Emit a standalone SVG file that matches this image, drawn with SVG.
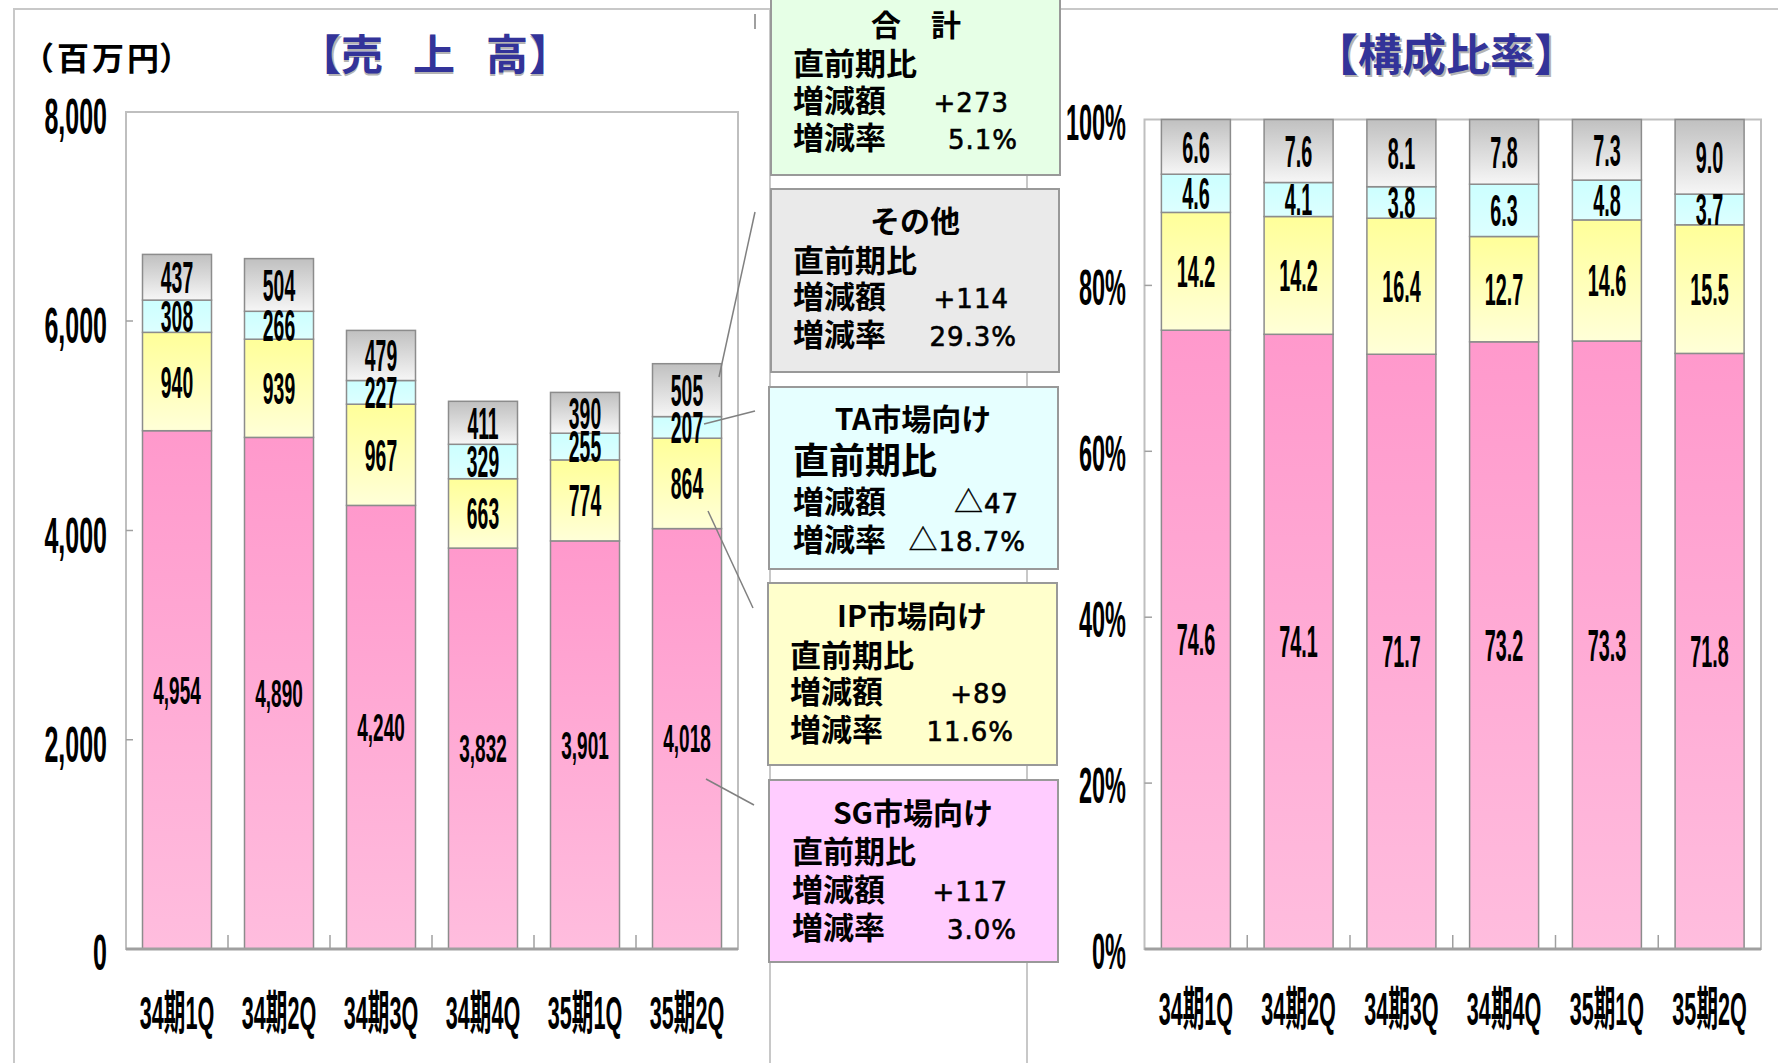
<svg xmlns="http://www.w3.org/2000/svg" width="1778" height="1063" viewBox="0 0 1778 1063">
<defs>
<linearGradient id="gP" x1="0" y1="0" x2="0" y2="1"><stop offset="0" stop-color="#FF99CC"/><stop offset="1" stop-color="#FFBDDE"/></linearGradient>
<linearGradient id="gY" x1="0" y1="0" x2="0" y2="1"><stop offset="0" stop-color="#FFFF99"/><stop offset="1" stop-color="#FFFFD8"/></linearGradient>
<linearGradient id="gC" x1="0" y1="0" x2="0" y2="1"><stop offset="0" stop-color="#CCFFFF"/><stop offset="1" stop-color="#DDFFFF"/></linearGradient>
<linearGradient id="gG" x1="0" y1="0" x2="0" y2="1"><stop offset="0" stop-color="#C0C0C0"/><stop offset="1" stop-color="#F6F6F6"/></linearGradient>
</defs>
<style>
.frame{fill:none;stroke:#C8C8C8;stroke-width:2}
.plot{fill:#FFFFFF;stroke:#BFBFBF;stroke-width:2}
.axis{stroke:#A0A0A0;stroke-width:3}
.tick{stroke:#A0A0A0;stroke-width:1.5}
.seg{stroke:#8C8C8C;stroke-width:1.5}
.p{fill:url(#gP)}.y{fill:url(#gY)}.c{fill:url(#gC)}.g{fill:url(#gG)}
.n{font-family:"Liberation Sans","Noto Sans CJK JP",sans-serif;font-weight:bold;fill:#000;text-anchor:middle}
.e{text-anchor:end}
.s44{font-size:44px}.s38{font-size:38px}.s50{font-size:50px}.s47{font-size:47px}
.title{font-family:"Noto Sans CJK JP",sans-serif;font-weight:bold;fill:#333399}
.box{stroke:#999999;stroke-width:2}
.bt{font-family:"Noto Sans CJK JP",sans-serif;font-weight:bold;font-size:31px;fill:#000}
.big{font-size:36px}
.hd{font-size:30px;text-anchor:middle}
.num{font-family:"DejaVu Sans","Noto Sans CJK JP",sans-serif;font-weight:normal;font-size:26px;letter-spacing:1px;text-anchor:end;fill:#000;stroke:#000;stroke-width:0.6px}
.tri{font-family:"Noto Sans CJK JP",sans-serif;font-size:29px;stroke-width:0.3px}
.conn{stroke:#808080;stroke-width:1.5;fill:none}
</style>
<rect x="0" y="0" width="1778" height="1063" fill="#FFFFFF"/>

<g id="frames">
<path class="frame" d="M14,1063 V9 H770 V1063"/>
<path class="frame" d="M1027,1063 V9 H1778"/>
</g>

<g id="left-chart">
<text class="title" x="299 341 383 413 455 486 529" y="70" font-size="42" dx="2" dy="2" style="fill:#B4B4B4">【売　上　高】</text>
<text class="title" x="299 341 383 413 455 486 529" y="70" font-size="42">【売　上　高】</text>
<text font-family="Noto Sans CJK JP,sans-serif" font-weight="bold" font-size="32" x="22 57 92 127 159" y="70" fill="#000">（百万円）</text>
<rect class="plot" x="126" y="112" width="612" height="837"/>
<g>
<line class="tick" x1="126" y1="321" x2="133" y2="321"/>
<line class="tick" x1="126" y1="530.5" x2="133" y2="530.5"/>
<line class="tick" x1="126" y1="739.75" x2="133" y2="739.75"/>
<line class="tick" x1="228" y1="935" x2="228" y2="949"/>
<line class="tick" x1="330" y1="935" x2="330" y2="949"/>
<line class="tick" x1="432" y1="935" x2="432" y2="949"/>
<line class="tick" x1="534" y1="935" x2="534" y2="949"/>
<line class="tick" x1="636" y1="935" x2="636" y2="949"/>
</g>
<g class="n s50 e">
<text transform="translate(107,134) scale(0.5,1)">8,000</text>
<text transform="translate(107,343) scale(0.5,1)">6,000</text>
<text transform="translate(107,552.5) scale(0.5,1)">4,000</text>
<text transform="translate(107,761.75) scale(0.5,1)">2,000</text>
<text transform="translate(107,970) scale(0.5,1)">0</text>
</g>
<g id="bar-l1">
<rect class="seg p" x="142.5" y="430.7" width="69" height="518.3"/>
<rect class="seg y" x="142.5" y="332.35" width="69" height="98.35"/>
<rect class="seg c" x="142.5" y="300.1" width="69" height="32.25"/>
<rect class="seg g" x="142.5" y="254.4" width="69" height="45.7"/>
</g>
<g id="bar-l2">
<rect class="seg p" x="244.5" y="437.4" width="69" height="511.6"/>
<rect class="seg y" x="244.5" y="339.2" width="69" height="98.2"/>
<rect class="seg c" x="244.5" y="311.3" width="69" height="27.9"/>
<rect class="seg g" x="244.5" y="258.6" width="69" height="52.7"/>
</g>
<g id="bar-l3">
<rect class="seg p" x="346.5" y="505.4" width="69" height="443.6"/>
<rect class="seg y" x="346.5" y="404.2" width="69" height="101.2"/>
<rect class="seg c" x="346.5" y="380.5" width="69" height="23.7"/>
<rect class="seg g" x="346.5" y="330.4" width="69" height="50.1"/>
</g>
<g id="bar-l4">
<rect class="seg p" x="448.5" y="548.1" width="69" height="400.9"/>
<rect class="seg y" x="448.5" y="478.7" width="69" height="69.4"/>
<rect class="seg c" x="448.5" y="444.3" width="69" height="34.4"/>
<rect class="seg g" x="448.5" y="401.3" width="69" height="43"/>
</g>
<g id="bar-l5">
<rect class="seg p" x="550.5" y="540.9" width="69" height="408.1"/>
<rect class="seg y" x="550.5" y="459.9" width="69" height="81"/>
<rect class="seg c" x="550.5" y="433.2" width="69" height="26.7"/>
<rect class="seg g" x="550.5" y="392.4" width="69" height="40.8"/>
</g>
<g id="bar-l6">
<rect class="seg p" x="652.5" y="528.6" width="69" height="420.4"/>
<rect class="seg y" x="652.5" y="438.2" width="69" height="90.4"/>
<rect class="seg c" x="652.5" y="416.6" width="69" height="21.6"/>
<rect class="seg g" x="652.5" y="363.7" width="69" height="52.9"/>
</g>
<line class="axis" x1="126" y1="949" x2="738" y2="949"/>
<g class="n s44">
<text transform="translate(177,293) scale(0.44,1)">437</text>
<text transform="translate(177,332) scale(0.44,1)">308</text>
<text transform="translate(177,398) scale(0.44,1)">940</text>
<text transform="translate(279,300.7) scale(0.44,1)">504</text>
<text transform="translate(279,341) scale(0.44,1)">266</text>
<text transform="translate(279,404) scale(0.44,1)">939</text>
<text transform="translate(381,371.2) scale(0.44,1)">479</text>
<text transform="translate(381,408) scale(0.44,1)">227</text>
<text transform="translate(381,470.5) scale(0.44,1)">967</text>
<text transform="translate(483,438.5) scale(0.44,1)">411</text>
<text transform="translate(483,477.2) scale(0.44,1)">329</text>
<text transform="translate(483,529.1) scale(0.44,1)">663</text>
<text transform="translate(585,428.5) scale(0.44,1)">390</text>
<text transform="translate(585,462.3) scale(0.44,1)">255</text>
<text transform="translate(585,516.1) scale(0.44,1)">774</text>
<text transform="translate(687,405.9) scale(0.44,1)">505</text>
<text transform="translate(687,443.1) scale(0.44,1)">207</text>
<text transform="translate(687,499.1) scale(0.44,1)">864</text>
</g>
<g class="n s38">
<text transform="translate(177,703.5) scale(0.5,1)">4,954</text>
<text transform="translate(279,706.8) scale(0.5,1)">4,890</text>
<text transform="translate(381,740.8) scale(0.5,1)">4,240</text>
<text transform="translate(483,762.2) scale(0.5,1)">3,832</text>
<text transform="translate(585,758.6) scale(0.5,1)">3,901</text>
<text transform="translate(687,752.4) scale(0.5,1)">4,018</text>
</g>
<g class="n s47">
<text transform="translate(177,1029) scale(0.46,1)">34期1Q</text>
<text transform="translate(279,1029) scale(0.46,1)">34期2Q</text>
<text transform="translate(381,1029) scale(0.46,1)">34期3Q</text>
<text transform="translate(483,1029) scale(0.46,1)">34期4Q</text>
<text transform="translate(585,1029) scale(0.46,1)">35期1Q</text>
<text transform="translate(687,1029) scale(0.46,1)">35期2Q</text>
</g>
</g>

<g id="right-chart">
<text class="title" x="1446" y="71" font-size="44" text-anchor="middle" dx="2" dy="2" style="fill:#B4B4B4">【構成比率】</text>
<text class="title" x="1446" y="71" font-size="44" text-anchor="middle">【構成比率】</text>
<rect class="plot" x="1144.5" y="119.5" width="616.5" height="829.5"/>
<g>
<line class="tick" x1="1144.5" y1="285.4" x2="1152" y2="285.4"/>
<line class="tick" x1="1144.5" y1="451.3" x2="1152" y2="451.3"/>
<line class="tick" x1="1144.5" y1="617.2" x2="1152" y2="617.2"/>
<line class="tick" x1="1144.5" y1="783.1" x2="1152" y2="783.1"/>
<line class="tick" x1="1247.25" y1="935" x2="1247.25" y2="949"/>
<line class="tick" x1="1350" y1="935" x2="1350" y2="949"/>
<line class="tick" x1="1452.75" y1="935" x2="1452.75" y2="949"/>
<line class="tick" x1="1555.5" y1="935" x2="1555.5" y2="949"/>
<line class="tick" x1="1658.25" y1="935" x2="1658.25" y2="949"/>
</g>
<g class="n s50 e">
<text transform="translate(1126,139.5) scale(0.47,1)">100%</text>
<text transform="translate(1126,305.4) scale(0.47,1)">80%</text>
<text transform="translate(1126,471.3) scale(0.47,1)">60%</text>
<text transform="translate(1126,637.2) scale(0.47,1)">40%</text>
<text transform="translate(1126,803.1) scale(0.47,1)">20%</text>
<text transform="translate(1126,969) scale(0.47,1)">0%</text>
</g>
<g id="bar-r1">
<rect class="seg p" x="1161.4" y="330.2" width="69" height="618.8"/>
<rect class="seg y" x="1161.4" y="212.4" width="69" height="117.8"/>
<rect class="seg c" x="1161.4" y="174.2" width="69" height="38.2"/>
<rect class="seg g" x="1161.4" y="119.5" width="69" height="54.7"/>
</g>
<g id="bar-r2">
<rect class="seg p" x="1264.1" y="334.3" width="69" height="614.7"/>
<rect class="seg y" x="1264.1" y="216.5" width="69" height="117.8"/>
<rect class="seg c" x="1264.1" y="182.5" width="69" height="34"/>
<rect class="seg g" x="1264.1" y="119.5" width="69" height="63"/>
</g>
<g id="bar-r3">
<rect class="seg p" x="1366.9" y="354.25" width="69" height="594.75"/>
<rect class="seg y" x="1366.9" y="218.2" width="69" height="136.05"/>
<rect class="seg c" x="1366.9" y="186.7" width="69" height="31.5"/>
<rect class="seg g" x="1366.9" y="119.5" width="69" height="67.2"/>
</g>
<g id="bar-r4">
<rect class="seg p" x="1469.6" y="341.8" width="69" height="607.2"/>
<rect class="seg y" x="1469.6" y="236.5" width="69" height="105.3"/>
<rect class="seg c" x="1469.6" y="184.2" width="69" height="52.3"/>
<rect class="seg g" x="1469.6" y="119.5" width="69" height="64.7"/>
</g>
<g id="bar-r5">
<rect class="seg p" x="1572.4" y="341" width="69" height="608"/>
<rect class="seg y" x="1572.4" y="219.9" width="69" height="121.1"/>
<rect class="seg c" x="1572.4" y="180.1" width="69" height="39.8"/>
<rect class="seg g" x="1572.4" y="119.5" width="69" height="60.6"/>
</g>
<g id="bar-r6">
<rect class="seg p" x="1675.1" y="353.4" width="69" height="595.6"/>
<rect class="seg y" x="1675.1" y="224.8" width="69" height="128.6"/>
<rect class="seg c" x="1675.1" y="194.1" width="69" height="30.7"/>
<rect class="seg g" x="1675.1" y="119.5" width="69" height="74.6"/>
</g>
<line class="axis" x1="1144.5" y1="949" x2="1761" y2="949"/>
<g class="n s44">
<text transform="translate(1195.9,162.5) scale(0.45,1)">6.6</text>
<text transform="translate(1195.9,209) scale(0.45,1)">4.6</text>
<text transform="translate(1195.9,287) scale(0.45,1)">14.2</text>
<text transform="translate(1195.9,655.3) scale(0.45,1)">74.6</text>
<text transform="translate(1298.6,166.7) scale(0.45,1)">7.6</text>
<text transform="translate(1298.6,215.2) scale(0.45,1)">4.1</text>
<text transform="translate(1298.6,291.1) scale(0.45,1)">14.2</text>
<text transform="translate(1298.6,657.3) scale(0.45,1)">74.1</text>
<text transform="translate(1401.4,168.8) scale(0.45,1)">8.1</text>
<text transform="translate(1401.4,218.2) scale(0.45,1)">3.8</text>
<text transform="translate(1401.4,301.9) scale(0.45,1)">16.4</text>
<text transform="translate(1401.4,667.3) scale(0.45,1)">71.7</text>
<text transform="translate(1504.1,167.6) scale(0.45,1)">7.8</text>
<text transform="translate(1504.1,226) scale(0.45,1)">6.3</text>
<text transform="translate(1504.1,304.9) scale(0.45,1)">12.7</text>
<text transform="translate(1504.1,661.1) scale(0.45,1)">73.2</text>
<text transform="translate(1606.9,165.5) scale(0.45,1)">7.3</text>
<text transform="translate(1606.9,215.7) scale(0.45,1)">4.8</text>
<text transform="translate(1606.9,296.2) scale(0.45,1)">14.6</text>
<text transform="translate(1606.9,660.7) scale(0.45,1)">73.3</text>
<text transform="translate(1709.6,172.5) scale(0.45,1)">9.0</text>
<text transform="translate(1709.6,225.2) scale(0.45,1)">3.7</text>
<text transform="translate(1709.6,304.8) scale(0.45,1)">15.5</text>
<text transform="translate(1709.6,666.9) scale(0.45,1)">71.8</text>
</g>
<g class="n s47">
<text transform="translate(1195.9,1025) scale(0.46,1)">34期1Q</text>
<text transform="translate(1298.6,1025) scale(0.46,1)">34期2Q</text>
<text transform="translate(1401.4,1025) scale(0.46,1)">34期3Q</text>
<text transform="translate(1504.1,1025) scale(0.46,1)">34期4Q</text>
<text transform="translate(1606.9,1025) scale(0.46,1)">35期1Q</text>
<text transform="translate(1709.6,1025) scale(0.46,1)">35期2Q</text>
</g>
</g>

<g id="connectors">
<line class="conn" x1="755" y1="14" x2="755" y2="29"/>
<line class="conn" x1="719" y1="377" x2="755" y2="212"/>
<line class="conn" x1="704" y1="424" x2="755" y2="411"/>
<line class="conn" x1="708" y1="511" x2="753" y2="608"/>
<line class="conn" x1="706" y1="779" x2="754" y2="805"/>
</g>

<g id="box-total">
<rect class="box" x="771" y="-2" width="289" height="177" fill="#E6FFE6"/>
<text class="bt hd" x="916" y="36" xml:space="preserve">合　計</text>
<text class="bt" x="793" y="75">直前期比</text>
<text class="bt" x="793" y="112">増減額</text>
<text class="num" x="1009" y="112">+273</text>
<text class="bt" x="793" y="149">増減率</text>
<text class="num" x="1018" y="149">5.1%</text>
</g>
<g id="box-other">
<rect class="box" x="771" y="189" width="288" height="183" fill="#EAEAEA"/>
<text class="bt hd" x="915" y="232">その他</text>
<text class="bt" x="793" y="272">直前期比</text>
<text class="bt" x="793" y="308">増減額</text>
<text class="num" x="1009" y="308">+114</text>
<text class="bt" x="793" y="346">増減率</text>
<text class="num" x="1017" y="346">29.3%</text>
</g>
<g id="box-ta">
<rect class="box" x="769" y="387" width="289" height="182" fill="#E6FFFF"/>
<text class="bt hd" x="913" y="430">TA市場向け</text>
<text class="bt big" x="793" y="474">直前期比</text>
<text class="bt" x="793" y="513">増減額</text>
<text class="num" x="1019" y="513"><tspan class="tri">△</tspan>47</text>
<text class="bt" x="793" y="551">増減率</text>
<text class="num" x="1026" y="551"><tspan class="tri">△</tspan>18.7%</text>
</g>
<g id="box-ip">
<rect class="box" x="768" y="583" width="289" height="182" fill="#FFFFCC"/>
<text class="bt hd" x="912" y="627">IP市場向け</text>
<text class="bt" x="790" y="667">直前期比</text>
<text class="bt" x="790" y="703">増減額</text>
<text class="num" x="1008" y="703">+89</text>
<text class="bt" x="790" y="741">増減率</text>
<text class="num" x="1014" y="741">11.6%</text>
</g>
<g id="box-sg">
<rect class="box" x="769" y="780" width="289" height="182" fill="#FFCCFF"/>
<text class="bt hd" x="913" y="824">SG市場向け</text>
<text class="bt" x="792" y="863">直前期比</text>
<text class="bt" x="792" y="901">増減額</text>
<text class="num" x="1008" y="901">+117</text>
<text class="bt" x="792" y="939">増減率</text>
<text class="num" x="1017" y="939">3.0%</text>
</g>
</svg>
